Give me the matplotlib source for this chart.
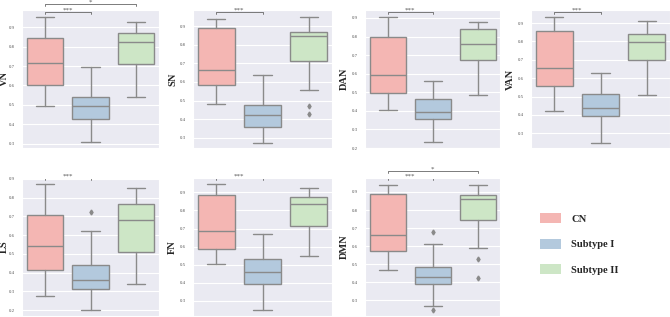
import matplotlib
matplotlib.use('Agg')
import matplotlib.pyplot as plt
import matplotlib.patches as mpatches
import seaborn as sns

sns.set_style('darkgrid')
plt.rcParams['font.family'] = ['Liberation Serif', 'DejaVu Serif']

groups = ['CN', 'Subtype I', 'Subtype II']
colors = ['#f4b6b3', '#b3c9dd', '#cde6c6']

# (whislo, q1, med, q3, whishi, fliers) per group
VN = [(0.495, 0.601, 0.718, 0.847, 0.955, []),
      (0.307, 0.427, 0.493, 0.538, 0.698, []),
      (0.543, 0.710, 0.826, 0.869, 0.929, [])]
SN = [(0.483, 0.585, 0.662, 0.891, 0.936, []),
      (0.275, 0.361, 0.425, 0.474, 0.639, []),
      (0.556, 0.710, 0.848, 0.870, 0.950, [0.472, 0.429])]
DAN = [(0.405, 0.495, 0.591, 0.800, 0.907, []),
       (0.232, 0.354, 0.395, 0.464, 0.561, []),
       (0.484, 0.675, 0.759, 0.841, 0.877, [])]
VAN = [(0.420, 0.560, 0.656, 0.858, 0.935, []),
       (0.247, 0.395, 0.435, 0.515, 0.627, []),
       (0.511, 0.698, 0.798, 0.840, 0.909, [])]
LS = [(0.273, 0.412, 0.542, 0.709, 0.871, []),
      (0.200, 0.315, 0.362, 0.439, 0.624, [0.724]),
      (0.337, 0.508, 0.681, 0.766, 0.851, [])]
FN = [(0.506, 0.585, 0.688, 0.883, 0.944, []),
      (0.248, 0.392, 0.460, 0.532, 0.670, []),
      (0.548, 0.716, 0.837, 0.872, 0.926, [])]
DMN = [(0.470, 0.575, 0.664, 0.889, 0.939, []),
       (0.269, 0.392, 0.431, 0.485, 0.612, [0.677, 0.245]),
       (0.592, 0.745, 0.859, 0.885, 0.941, [0.529, 0.426])]

panels = [('VN', VN, (0.277, 0.99), [0.3, 0.4, 0.5, 0.6, 0.7, 0.8, 0.9], [('***', 0, 1), ('*', 0, 2)]),
          ('SN', SN, (0.246, 0.986), [0.3, 0.4, 0.5, 0.6, 0.7, 0.8, 0.9], [('***', 0, 1)]),
          ('DAN', DAN, (0.205, 0.943), [0.2, 0.3, 0.4, 0.5, 0.6, 0.7, 0.8, 0.9], [('***', 0, 1)]),
          ('VAN', VAN, (0.220, 0.971), [0.3, 0.4, 0.5, 0.6, 0.7, 0.8, 0.9], [('***', 0, 1)]),
          ('LS', LS, (0.169, 0.904), [0.2, 0.3, 0.4, 0.5, 0.6, 0.7, 0.8, 0.9], [('***', 0, 1)]),
          ('FN', FN, (0.217, 0.979), [0.3, 0.4, 0.5, 0.6, 0.7, 0.8, 0.9], [('***', 0, 1)]),
          ('DMN', DMN, (0.214, 0.977), [0.3, 0.4, 0.5, 0.6, 0.7, 0.8, 0.9], [('***', 0, 1), ('*', 0, 2)])]

# axes boxes in pixels: (left, top, right, bottom)
W, H = 670, 317
boxes = [(22, 10, 159, 148), (193, 10, 332, 148), (365, 10, 500, 148), (531, 10, 670, 148),
         (22, 178, 159, 316), (193, 178, 332, 316), (365, 178, 500, 316)]

fig = plt.figure(figsize=(W / 100, H / 100), dpi=100)
gray = '#8a8a8a'

for (name, data, ylim, ticks, brackets), (l, t, r, b) in zip(panels, boxes):
    ax = fig.add_axes([l / W, 1 - b / H, (r - l) / W, (b - t) / H])
    stats = []
    for (lo, q1, med, q3, hi, fl), g in zip(data, groups):
        stats.append(dict(whislo=lo, q1=q1, med=med, q3=q3, whishi=hi, fliers=fl, label=g))
    bp = ax.bxp(stats, positions=[0, 1, 2], widths=0.8, patch_artist=True,
                boxprops=dict(edgecolor=gray, linewidth=1.0),
                medianprops=dict(color=gray, linewidth=1.0),
                whiskerprops=dict(color=gray, linewidth=1.0),
                capprops=dict(color=gray, linewidth=1.0),
                flierprops=dict(marker='d', markersize=2.5, markerfacecolor=gray,
                                markeredgecolor=gray))
    for patch, c in zip(bp['boxes'], colors):
        patch.set_facecolor(c)
    for cap in bp['caps']:
        x = cap.get_xdata()
        m = (x[0] + x[1]) / 2
        cap.set_xdata([m - 0.2, m + 0.2])
    ax.set_xlim(-0.5, 2.5)
    ax.set_ylim(*ylim)
    ax.set_yticks(ticks)
    ax.set_yticklabels(['%.1f' % v for v in ticks])
    ax.set_xticks([])
    ax.tick_params(axis='y', labelsize=3.5, colors='#555555', pad=5, length=0)
    ax.set_ylabel(name, fontsize=7.5, fontweight='bold')
    off = 13 if l < 100 else 16
    ax.yaxis.set_label_coords(-off / (r - l), 0.5)
    ax.grid(axis='x', visible=False)

    row2 = t > 100
    trans = ax.get_xaxis_transform()
    for stars, x1, x2 in brackets:
        if stars == '***':
            yb = 0.997 if row2 else 0.985
        else:
            yb = 1.05 if row2 else 1.04
        h = 0.012
        ax.plot([x1, x1, x2, x2], [yb - h, yb, yb, yb - h], color='#666666', lw=0.6,
                transform=trans, clip_on=False)
        ax.text((x1 + x2) / 2, yb - 0.004, stars, ha='center', va='bottom', fontsize=5,
                color='#555555', transform=trans, clip_on=False)

handles = [mpatches.Patch(facecolor=c, edgecolor='none', label=g) for g, c in zip(groups, colors)]
fig.legend(handles=handles, loc='center left', bbox_to_anchor=(530 / W, 1 - 244 / H),
           frameon=False, prop=dict(family='Liberation Serif', weight='bold', size=7.6),
           handlelength=2.0, handleheight=1.1, labelspacing=1.4, handletextpad=1.0)

fig.savefig('out.png', dpi=100)
